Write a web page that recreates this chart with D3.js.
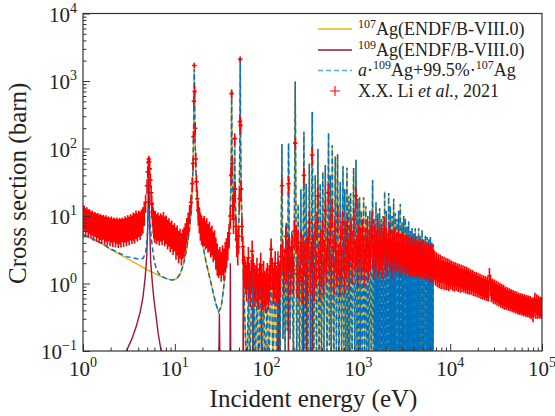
<!DOCTYPE html>
<html>
<head>
<meta charset="utf-8">
<script src="https://cdn.jsdelivr.net/npm/d3@7/dist/d3.min.js"></script>
<style>
  body { margin: 0; background: #fff; }
</style>
</head>
<body>
<div id="chart"></div>
<script>
// ENDF/B-VIII.0 107Ag, [energy eV, cross section barn]
const ag107Low = [[1,5.3],[1.5,4.1],[2,3.2],[3,2.35],[4,1.9],[5,1.6],[6,1.42],[7,1.28],[8,1.19],[9,1.14],[9.6,1.13],
  [10.5,1.18],[11.5,1.4],[12.5,2.0],[13.5,3.3],[14.5,6.5],[15.2,14],[15.7,40],[16.0,150],[16.2,700],[16.3,1500],
  [16.4,700],[16.6,150],[17.0,45],[17.6,18],[18.0,10],[19,6],[20,4.0],[22,2.0],[23.3,1.45],[26.3,0.72],[28,0.5],
  [30,0.38],[32,0.45],[34,0.85],[35.5,1.4],[37,2.5],[38.5,4.4],[40,9],[40.8,25],[41.3,120],[41.6,740],[42.0,100],
  [42.8,15],[43.8,8],[44.5,30],[44.9,150],[45.3,30],[46.5,6],[48,3.5],[49.5,5],[50.5,20],[51.2,200],[51.6,2200],
  [52.0,200],[53,20],[55,3],[57,0.6],[59,0.15]];
const ag107Res = [[61,0.04],[63.5,1.2],[65.5,0.04],[70.2,2.8],[71.5,0.05],[73.2,1.0],[75,0.04],[78.9,1.0],[82,0.04],
  [86.7,1.4],[89,0.04],[92.5,1.0],[96,0.04],[101.5,0.8],[106,0.04],[112.2,4],[117,0.05],[124,1.5],[129,0.05],
  [134,1.0],[140,0.05],[147,117],[151,0.15],[155.5,2.5],[159,0.1],[163.7,8],[168,0.2],[173.4,120],[180,0.15],
  [188,6],[196,0.06],[205,980],[213,0.08],[221,15],[228,0.04],[236,25],[245,0.04],[255,177],[262,0.06],[270,30],
  [281,0.04],[292,60],[303,0.05],[314,350],[326,0.04],[339,40],[350,0.06],[362,98],[373,0.05],[384,30],[396,0.04],
  [409,45],[422,0.06],[436,57],[455,0.05],[473,170],[483,0.12],[494,40],[506,0.05],[519,112],[540,0.04],[560,76],
  [576,0.08],[593,83],[614,0.04],[635,32],[657,0.06],[679,55],[695,0.1],[711,25],[731,0.04],[751,52],[768,0.08],
  [786,20],[804,0.04],[822,22],[854,0.06],[887,52],[914,0.05],[942,68],[963,0.1],[985,18],[1007,0.04],[1030,19],
  [1053,0.08],[1076,12],[1108,0.04],[1140,19],[1172,0.08],[1205,14],[1236,0.05],[1267,10],[1300,0.04],[1332,12],
  [1380,0.06],[1428,34],[1455,0.08],[1483,9],[1500,0.05],[1519,3],[1537,0.04],[1555,16],[1573,0.05],[1591,2.5],
  [1610,0.04],[1628,11],[1646,0.05],[1665,3],[1684,0.04],[1703,13],[1722,0.05],[1740,2.2],[1759,0.04],[1778,9],
  [1797,0.05],[1816,3],[1836,0.04],[1855,10],[1874,0.05],[1892,2.6],[1911,0.04],[1930,23],[1950,0.05],[1972,3],
  [1993,0.04],[2015,12],[2045,0.05],[2075,2.4],[2105,0.04],[2135,22],[2158,0.05],[2180,3],[2204,0.04],[2228,14],
  [2252,0.05],[2276,2.5],[2300,0.04],[2325,10],[2348,0.05],[2372,3.2],[2396,0.04],[2420,18],[2446,0.05],[2472,2.6],
  [2498,0.04],[2525,11],[2552,0.05],[2580,2.8],[2607,0.04],[2635,9],[2662,0.05],[2690,3],[2716,0.04],[2743,12],
  [2772,0.05],[2802,2.5],[2832,0.04],[2862,15],[2893,0.05],[2924,3],[2955,0.04],[2986,8],[3017,0.05],[3048,2.6],
  [3079,0.04],[3110,10],[3143,0.05],[3177,2.8],[3211,0.04],[3245,9.3],[3280,0.05],[3315,2.4],[3350,0.04],[3385,7],
  [3420,0.05],[3455,2.6],[3490,0.04],[3525,8.3],[3562,0.05],[3600,2.5],[3640,0.04],[3680,6],[3720,0.05],[3760,2.4],
  [3800,0.04],[3840,6.6],[3880,0.05],[3920,2.2],[3960,0.04],[4000,5.5],[4042,0.05],[4085,2.5],[4128,0.04],[4170,6.6],
  [4215,0.05],[4260,2.2],[4305,0.04],[4350,5],[4395,0.05],[4440,2.4],[4485,0.04],[4530,6.6],[4580,0.05],[4630,2.2],
  [4680,0.04],[4730,5],[4782,0.05],[4835,2.3],[4888,0.04],[4940,6.2],[4990,0.05],[5040,2.1],[5090,0.04],[5140,4.5],
  [5195,0.05],[5250,2.2],[5307,0.04],[5365,5.2],[5422,0.05],[5480,2],[5540,0.04],[5600,4.9],[5657,0.05],[5715,2.1],
  [5775,0.04],[5835,4.5],[5897,0.05],[5960,2],[6022,0.04],[6085,4.9],[6142,0.05],[6200,2],[6257,0.04],[6315,4],
  [6377,0.05],[6440,1.9],[6500,0.04],[6560,3.8]];
const ag107High = [[6600,1.55],[7000,1.52],[8000,1.45],[10000,1.34],[13000,1.24],[16500,1.13],[20000,1.03],
  [27400,0.88],[35000,0.75],[45400,0.63],[60000,0.56],[75000,0.52],[100000,0.47]];

// ENDF/B-VIII.0 109Ag (as plotted)
const ag109 = [[2.5,0.05],[2.97,0.1],[3.4,0.15],[3.8,0.23],[4.2,0.38],[4.5,0.63],[4.75,1.2],[4.95,2.5],[5.08,8],
  [5.2,60],[5.32,8],[5.45,2.2],[5.7,1.0],[5.95,0.55],[6.2,0.36],[6.6,0.18],[7.1,0.1],[7.6,0.05],[29.9,0.02],
  [30.6,0.36],[31.3,0.02],[39.8,0.02],[40.3,2.0],[40.8,0.02],[55.2,0.02],[55.7,1.6],[56.2,0.02],[70.5,0.02],
  [71,1.2],[71.5,0.02],[87.5,0.02],[88,1.5],[88.5,0.02],[132,0.02],[133,3],[134,0.02],[138,0.02],[139,2],
  [140,0.02],[172,0.02],[173,5],[174,0.02],[250,0.02],[251,4],[252,0.02],[273,0.02],[274,6],[275,0.02],
  [299,0.02],[300,3],[301,0.02],[315,0.02],[316,8],[317,0.02],[100000,0.02]];

// a*109Ag + 99.5%*107Ag, low-energy part (identical to 107Ag above 7 eV)
const mixLow = [[1,5.3],[1.5,4.15],[2,3.25],[3,2.5],[3.5,2.4],[4,2.3],[4.5,2.35],[4.8,2.8],[5.0,4.5],[5.1,8],
  [5.2,14],[5.3,10],[5.45,6],[5.6,4.2],[5.8,2.8],[6.0,2.1],[6.3,1.65],[6.6,1.45],[7,1.3]];

// X.X. Li et al., 2021: [energy eV, cross section barn, relative error]
const liLow = [[1.00,9.8,.45],[1.03,10.2,.4],[1.07,9.0,.45],[1.10,9.6,.4],[1.14,8.6,.45],[1.18,9.0,.4],[1.22,8.2,.42],
  [1.26,8.6,.4],[1.30,7.8,.45],[1.35,8.2,.4],[1.40,7.5,.45],[1.45,7.9,.4],[1.50,7.2,.45],[1.55,7.6,.42],[1.60,7.0,.45],
  [1.66,7.4,.4],[1.72,6.8,.45],[1.78,7.2,.42],[1.84,6.6,.45],[1.90,7.0,.4],[1.97,6.5,.45],[2.04,6.9,.42],[2.11,6.3,.45],
  [2.18,6.8,.4],[2.26,6.2,.45],[2.34,6.7,.42],[2.42,6.1,.45],[2.50,6.6,.42],[2.59,6.2,.45],[2.68,6.8,.4],[2.77,6.3,.45],
  [2.87,7.0,.42],[2.97,6.5,.45],[3.07,7.2,.42],[3.18,6.7,.45],[3.29,7.5,.42],[3.41,7.0,.45],[3.53,7.8,.45],[3.65,7.4,.47],
  [3.78,8.3,.45],[3.91,7.6,.45],[4.05,8.4,.42],[4.19,8.0,.45],[4.34,8.8,.42],[4.49,9.5,.42],[4.65,11.5,.38],[4.81,16,.3],
  [4.98,28,.25],[5.08,45,.2],[5.15,62,.18],[5.20,70,.12],[5.26,64,.15],[5.33,50,.2],[5.42,34,.25],[5.52,22,.3],
  [5.62,15,.35],[5.71,11.5,.4],[5.81,9.5,.42],[5.91,8.4,.45],[6.02,7.6,.47],[6.12,8.2,.45],[6.33,7.2,.47],[6.55,7.8,.45],
  [6.78,6.9,.47],[7.02,7.6,.45],[7.27,7.0,.47],[7.52,7.9,.45],[7.78,6.7,.47],[8.06,7.0,.45],[8.34,6.0,.47],[8.63,6.4,.45],
  [8.93,5.5,.47],[9.25,5.9,.45],[9.57,5.0,.47],[9.91,5.4,.45],[10.3,4.5,.5],[10.6,4.9,.47],[11.0,4.0,.5],[11.4,4.4,.47],
  [11.8,3.7,.5],[12.2,4.3,.47],[12.6,4.6,.47],[13.0,5.4,.45],[13.5,6.6,.42],[14.0,8.2,.38],[14.5,11,.32],[15.0,16,.3],
  [15.5,30,.25],[15.8,60,.22],[16.0,150,.2],[16.15,500,.2],[16.3,1700,.1],[16.45,700,.2],[16.65,200,.22],[16.9,70,.25],
  [17.2,32,.3],[17.6,18,.35],[18.0,12,.4],[18.5,9.5,.42],[19.0,7.8,.45],[19.6,7.0,.47],[20.2,6.4,.45],[20.9,6.8,.47],
  [21.6,5.8,.45],[22.3,6.3,.47],[23.0,5.2,.45],[23.8,5.6,.47],[24.6,4.6,.47],[25.4,4.9,.47],[26.2,3.9,.47],[27.1,4.2,.47],
  [28.0,3.2,.5],[29.0,2.6,.5],[30.0,2.2,.45],[31.0,2.4,.45],[32.0,2.0,.47],[33.1,2.5,.47],[34.2,2.2,.5],[35.4,2.8,.47],
  [36.6,3.2,.47],[37.8,4.0,.45],[39.1,5.5,.4],[40.3,10,.35],[41.0,40,.3],[41.6,650,.15],[42.1,60,.3],[42.8,14,.35],
  [43.6,9,.4],[44.3,20,.35],[44.9,140,.2],[45.5,25,.3],[46.4,7,.4],[47.4,4.5,.45],[48.5,3.5,.47],[49.6,5,.45],
  [50.6,18,.35],[51.2,250,.25],[51.6,2100,.1],[52.1,220,.25],[52.8,25,.35],[53.8,7,.4]];
const liRes = [[55.0,3.5,.45],[56.3,2.2,.5],[57.6,1.7,.5],[59.0,1.4,.5],[60.4,1.2,.55],[61.8,1.6,.5],[63.3,2.4,.45],
  [64.8,1.3,.55],[66.4,1.0,.55],[68.0,1.5,.5],[69.6,3.0,.45],[71.3,1.8,.5],[73.0,1.3,.55],[74.8,1.0,.55],[76.6,1.2,.55],
  [78.5,1.6,.5],[80.4,1.1,.55],[82.3,0.9,.55],[84.3,1.3,.55],[86.3,1.9,.5],[88.4,1.2,.55],[90.5,0.9,.55],[92.7,1.4,.55],
  [95.0,1.0,.55],[97.2,0.8,.55],[99.6,1.1,.55],[102,1.3,.55],[104.5,0.9,.55],[107,1.2,.55],[109.5,1.6,.5],[112,3.2,.45],
  [115,1.6,.5],[118,1.1,.55],[121,1.3,.55],[124,2.0,.5],[127,1.2,.55],[130,1.0,.55],[133,1.5,.55],[136,1.1,.55],
  [140,1.4,.55],[143,2.5,.5],[147,28,.3],[150,3,.45],[154,1.6,.55],[158,2.2,.5],[162,5,.45],[166,2.0,.5],[170,3.0,.5],
  [173.5,30,.3],[178,3.2,.5],[182,1.5,.55],[186,2.4,.5],[191,3.5,.5],[196,1.6,.55],[201,6,.45],[205,120,.2],
  [210,5,.45],[215,1.4,.55],[220,4,.5],[226,1.2,.55],[232,2.5,.5],[238,4,.5],[244,1.1,.55],[250,3.5,.5],[255,40,.3],
  [261,2.6,.5],[267,1.0,.55],[273,3.2,.5],[280,1.3,.55],[286,4.5,.5],[293,8,.45],[300,1.6,.55],[307,2.8,.5],
  [314,80,.3],[322,3.5,.5],[330,1.2,.55],[338,5,.5],[346,2.0,.55],[354,8,.45],[362,20,.35],[371,2.5,.5],[380,1.2,.55],
  [389,4,.5],[398,2.0,.55],[408,6,.5],[418,1.5,.55],[428,3,.5],[438,12,.45],[448,2.2,.55],[459,4.5,.5],[470,22,.35],
  [481,3.0,.5],[493,7,.5],[505,1.8,.55],[517,12,.45],[530,3.5,.5],[542,1.5,.55],[555,6,.5],[569,3,.5],[583,2.0,.55],
  [597,10,.45],[611,2.6,.5],[626,1.4,.55],[641,5,.5],[656,2.2,.55],[672,8,.45],[688,3,.5],[705,1.6,.55],[722,5.5,.5],
  [740,2.4,.5],[757,7,.5],[776,3,.5],[795,1.8,.55],[814,4.5,.5],[833,6,.5],[853,2.2,.55],[874,4,.5],[895,9,.45],
  [917,3,.5],[939,20,.35],[961,3.5,.5],[984,2,.55],[1008,5,.5],[1032,3,.5],[1057,4.5,.5],[1083,2.5,.55],
  [1109,6,.5],[1135,3.2,.5],[1163,2,.55],[1191,4.5,.5],[1219,3,.5],[1249,6,.5],[1279,2.5,.55],[1309,4,.5],
  [1341,3,.5],[1373,5,.5],[1406,8,.45],[1440,3.5,.5],[1475,2.5,.55],[1510,5,.5],[1546,3,.5],[1583,4,.5],
  [1621,6,.5],[1660,2.8,.55],[1700,4.5,.5],[1741,3.2,.5],[1783,5,.5],[1826,2.6,.55],[1870,4,.5],[1914,6.5,.5],
  [1960,3,.5],[2008,4.5,.5],[2056,2.8,.55],[2105,3.8,.5],[2156,5.5,.5],[2208,3,.5],[2261,4.2,.5],[2315,2.6,.55],
  [2371,4,.5],[2428,3.2,.5],[2486,4.5,.5],[2546,2.8,.5],[2607,3.8,.5],[2670,3,.5],[2734,4.2,.5],[2800,2.8,.5],
  [2867,3.6,.5],[2936,2.6,.5],[3007,3.8,.5],[3079,3,.5],[3153,3.4,.5],[3229,2.6,.5],[3306,3.6,.5],
  [3386,2.8,.5],[3467,3.4,.5],[3551,2.6,.5],[3636,3.2,.5],[3723,2.5,.5],[3813,3.3,.5],[3905,2.7,.5],
  [3999,3.1,.5],[4095,2.5,.5],[4193,3.2,.5],[4294,2.6,.5],[4397,3.0,.5],[4503,2.4,.5],[4611,3.1,.5],
  [4722,2.5,.5],[4836,2.9,.5],[4952,2.3,.5],[5071,3.0,.5],[5193,2.4,.5],[5318,2.8,.5],[5446,2.3,.5],
  [5577,2.7,.5],[5711,2.2,.5],[5849,2.6,.5],[5989,2.1,.5],[6133,2.5,.5],[6281,2.0,.5],[6432,2.4,.5],
  [6587,1.9,.45]];
const liHigh = [[6745,2.1,.45],[6907,1.7,.45],[7074,2.0,.45],[7244,1.6,.45],[7418,1.9,.45],[7597,1.55,.45],[7780,1.85,.45],
  [7967,1.5,.45],[8159,1.8,.42],[8355,1.5,.45],[8556,1.75,.42],[8762,1.45,.45],[8973,1.7,.42],[9189,1.45,.45],
  [9410,1.65,.42],[9637,1.4,.45],[9868,1.6,.42],[10105,1.4,.42],[10348,1.55,.4],[10597,1.35,.42],[10852,1.5,.4],
  [11113,1.3,.42],[11380,1.48,.4],[11654,1.3,.4],[11934,1.45,.38],[12221,1.25,.4],[12515,1.42,.38],
  [12816,1.22,.4],[13124,1.38,.38],[13440,1.2,.38],[13763,1.35,.38],[14094,1.18,.38],[14433,1.3,.38],
  [14780,1.15,.38],[15136,1.28,.38],[15500,1.12,.38],[15872,1.25,.36],[16254,1.1,.38],[16645,1.2,.36],
  [17045,1.06,.36],[17455,1.17,.35],[17874,1.02,.36],[18304,1.12,.35],[18744,0.99,.35],[19195,1.1,.35],
  [19656,0.96,.35],[20128,1.06,.35],[20612,0.94,.35],[21108,1.03,.35],[21615,0.91,.35],[22135,1.0,.35],
  [22667,0.89,.35],[23212,0.97,.35],[23770,0.87,.35],[24341,0.95,.35],[24926,0.85,.35],[25526,0.93,.35],
  [26139,0.83,.35],[26768,1.3,.3],[27411,1.0,.35],[28070,0.82,.35],[28745,0.88,.35],[29436,0.77,.35],
  [30143,0.85,.35],[30868,0.75,.35],[31610,0.82,.35],[32370,0.72,.35],[33148,0.79,.35],[33945,0.7,.35],
  [34761,0.76,.35],[35596,0.67,.35],[36452,0.73,.35],[37329,0.65,.35],[38226,0.71,.35],[39145,0.63,.35],
  [40086,0.68,.33],[41050,0.61,.33],[42036,0.66,.33],[43047,0.59,.33],[44082,0.64,.33],[45141,0.58,.33],[46227,0.62,.33],
  [47338,0.56,.33],[48476,0.6,.33],[49641,0.55,.33],[50835,0.58,.33],[52057,0.53,.33],[53308,0.57,.33],[54590,0.52,.33],
  [55902,0.55,.33],[57246,0.51,.33],[58622,0.54,.33],[60031,0.5,.33],[61474,0.53,.33],[62952,0.49,.33],[64465,0.52,.33],
  [66015,0.48,.33],[67602,0.51,.33],[69227,0.47,.33],[70891,0.5,.33],[72595,0.46,.33],[74340,0.49,.33],[76127,0.44,.33],
  [77957,0.47,.33],[79831,0.43,.38],[81750,0.47,.33],[83715,0.55,.33],[85728,0.45,.33],[87788,0.52,.33],[89899,0.45,.33],
  [92060,0.5,.33],[94273,0.45,.33],[96539,0.48,.33],[98860,0.45,.33],[100000,0.47,.33]];

// axes
const xMajor = [1, 10, 100, 1000, 10000, 100000];
const xExp = ["0", "1", "2", "3", "4", "5"];
const yMajor = [0.1, 1, 10, 100, 1000, 10000];
const yExp = ["\u22121", "0", "1", "2", "3", "4"];

const W = 555, H = 416;
const plot = { left: 83, right: 542, top: 13.5, bottom: 351 };
const colors = { ag107: "#EDB120", ag109: "#A2142F", mix: "#0072BD", li: "#FF0000" };
const serif = "'Liberation Serif', 'Times New Roman', 'DejaVu Serif', serif";

const svg = d3.select("#chart").append("svg")
    .attr("width", W)
    .attr("height", H)
    .style("font-family", serif);

const x = d3.scaleLog().domain([1, 1e5]).range([plot.left, plot.right]);
const y = d3.scaleLog().domain([0.1, 1e4]).range([plot.bottom, plot.top]);

svg.append("clipPath").attr("id", "clip")
    .append("rect")
    .attr("x", plot.left).attr("y", plot.top)
    .attr("width", plot.right - plot.left)
    .attr("height", plot.bottom - plot.top);

const g = svg.append("g").attr("clip-path", "url(#clip)");
const line = d3.line().x(d => x(d[0])).y(d => y(d[1]));

const ag107 = ag107Low.concat(ag107Res, ag107High);
const mix = mixLow.concat(ag107.filter(d => d[0] > 7));
const li = liLow.concat(liRes, liHigh);

// 107Ag
g.append("path").datum(ag107)
    .attr("d", line)
    .attr("fill", "none")
    .attr("stroke", colors.ag107)
    .attr("stroke-width", 1.5);

// 109Ag
g.append("path").datum(ag109)
    .attr("d", line)
    .attr("fill", "none")
    .attr("stroke", colors.ag109)
    .attr("stroke-width", 1.4);

// combined, dashed
g.append("path").datum(mix)
    .attr("d", line)
    .attr("fill", "none")
    .attr("stroke", colors.mix)
    .attr("stroke-width", 1.5)
    .attr("stroke-dasharray", "5,3");

// measurement: crosses with vertical error bars, drawn on top
function crossPath(data, arm) {
    return data.map(d => {
        const cx = x(d[0]), cy = y(d[1]);
        const lo = y(d[1] * (1 - d[2])), hi = y(d[1] * (1 + d[2]));
        return `M${cx - arm},${cy}H${cx + arm}M${cx},${lo}V${hi}`;
    }).join("");
}
g.append("path")
    .attr("d", crossPath(li, 2.2))
    .attr("fill", "none")
    .attr("stroke", colors.li)
    .attr("stroke-width", 1.6);

// Axes (ticks point inward)
const xMinor = [], yMinor = [];
xMajor.slice(0, -1).forEach(d => { for (let k = 2; k < 10; k++) xMinor.push(d * k); });
yMajor.slice(0, -1).forEach(d => { for (let k = 2; k < 10; k++) yMinor.push(d * k); });

function drawAxis(axis, transform) {
    const a = svg.append("g").attr("transform", transform).call(axis);
    a.select(".domain").remove();
    a.selectAll("line").attr("stroke", "#333");
    return a;
}
drawAxis(d3.axisBottom(x).tickValues(xMinor).tickSize(-3.5).tickFormat(""), `translate(0,${plot.bottom})`);
drawAxis(d3.axisBottom(x).tickValues(xMajor).tickSize(-7).tickFormat(""), `translate(0,${plot.bottom})`);
drawAxis(d3.axisLeft(y).tickValues(yMinor).tickSize(-3.5).tickFormat(""), `translate(${plot.left},0)`);
drawAxis(d3.axisLeft(y).tickValues(yMajor).tickSize(-7).tickFormat(""), `translate(${plot.left},0)`);

// frame
svg.append("rect")
    .attr("x", plot.left).attr("y", plot.top)
    .attr("width", plot.right - plot.left)
    .attr("height", plot.bottom - plot.top)
    .attr("fill", "none")
    .attr("stroke", "#333")
    .attr("stroke-width", 1.2);

// tick labels as 10^n
xMajor.forEach((v, i) => {
    const t = svg.append("text")
        .attr("x", x(v)).attr("y", plot.bottom + 25)
        .attr("text-anchor", "middle")
        .attr("font-family", serif)
        .attr("fill", "#222")
        .attr("font-size", "21px");
    t.append("tspan").text("10");
    t.append("tspan").attr("dy", -9).attr("font-size", "14px").text(xExp[i]);
});
yMajor.forEach((v, i) => {
    const t = svg.append("text")
        .attr("x", plot.left - 6).attr("y", y(v) + 8)
        .attr("text-anchor", "end")
        .attr("font-family", serif)
        .attr("fill", "#222")
        .attr("font-size", "21px");
    t.append("tspan").text("10");
    t.append("tspan").attr("dy", -9).attr("font-size", "14px").text(yExp[i]);
});

// axis titles
svg.append("text")
    .attr("x", (plot.left + plot.right) / 2 + 1)
    .attr("y", 407)
    .attr("text-anchor", "middle")
    .attr("font-family", serif)
    .attr("fill", "#222")
    .attr("font-size", "25px")
    .text("Incident energy (eV)");

svg.append("text")
    .attr("transform", `translate(26,${(plot.top + plot.bottom) / 2 + 1}) rotate(-90)`)
    .attr("text-anchor", "middle")
    .attr("font-family", serif)
    .attr("fill", "#222")
    .attr("font-size", "25px")
    .text("Cross section (barn)");

// legend
const leg = svg.append("g");
const rowY = [29, 50, 70.5, 91];
const lx0 = 318, lx1 = 352, tx = 358;
leg.append("line").attr("x1", lx0).attr("x2", lx1).attr("y1", rowY[0]).attr("y2", rowY[0])
    .attr("stroke", colors.ag107).attr("stroke-width", 1.3);
leg.append("line").attr("x1", lx0).attr("x2", lx1).attr("y1", rowY[1]).attr("y2", rowY[1])
    .attr("stroke", colors.ag109).attr("stroke-width", 1.3);
leg.append("line").attr("x1", lx0).attr("x2", lx1).attr("y1", rowY[2]).attr("y2", rowY[2])
    .attr("stroke", "#5aa6dc").attr("stroke-width", 1.5).attr("stroke-dasharray", "5,3");
leg.append("path")
    .attr("d", `M${(lx0 + lx1) / 2 - 5},${rowY[3]}H${(lx0 + lx1) / 2 + 5}M${(lx0 + lx1) / 2},${rowY[3] - 5}V${rowY[3] + 5}`)
    .attr("stroke", colors.li).attr("stroke-width", 1.1);

function legText(i) {
    return leg.append("text").attr("x", tx).attr("y", rowY[i] + 5.5)
        .attr("font-family", serif).attr("fill", "#222").attr("font-size", "18px");
}
function sup(t, s) { t.append("tspan").attr("dy", -7).attr("font-size", "12px").text(s); }
function base(t, s) { return t.append("tspan").attr("dy", 7).text(s); }
let t = legText(0); sup(t, "107"); base(t, "Ag(ENDF/B-VIII.0)");
t = legText(1); sup(t, "109"); base(t, "Ag(ENDF/B-VIII.0)");
t = legText(2);
t.append("tspan").attr("font-style", "italic").text("a");
t.append("tspan").text("\u00b7");
sup(t, "109"); base(t, "Ag+99.5%\u00b7"); sup(t, "107"); base(t, "Ag");
t = legText(3);
t.append("tspan").text("X.X. Li ");
t.append("tspan").attr("font-style", "italic").text("et al.");
t.append("tspan").text(", 2021");
</script>
</body>
</html>
